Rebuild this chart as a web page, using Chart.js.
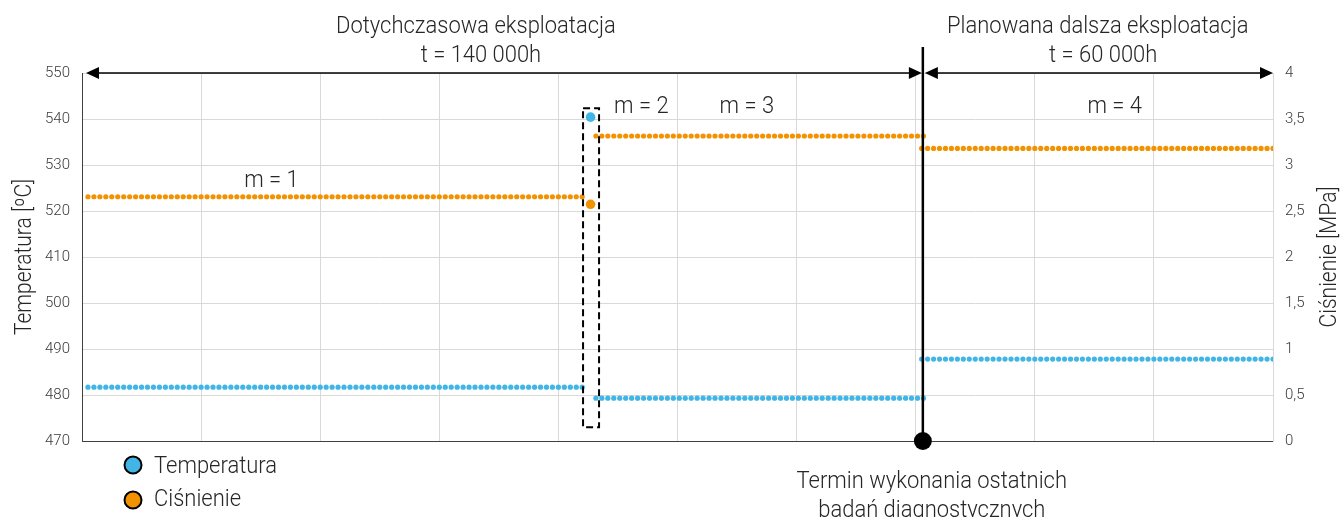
<!DOCTYPE html>
<html><head><meta charset="utf-8">
<script src="https://cdn.jsdelivr.net/npm/chart.js@4/dist/chart.umd.min.js"></script>
<style>html,body{margin:0;padding:0;background:#fff;overflow:hidden}#wrap{width:1342px;height:517px}</style>
</head><body><div id="wrap"><canvas id="c" width="1342" height="517"></canvas></div>
<script>
// ---- data ----
const phaseNames = ['m = 1', 'm = 2', 'm = 3', 'm = 4'];
const phaseStartH = [1000, 85400, 86300, 141000];
const phaseEndH = [84000, 85400, 141300, 200000];
const sampleStepH = 1000;
const temperatureC = [481.7, 540.4, 479.3, 487.8];
const pressureMPa = [2.655, 2.573, 3.315, 3.18];
const tempTickLabels = ['470', '480', '490', '500', '410', '520', '530', '540', '550'];
const pressureTicks = [0, 0.5, 1, 1.5, 2, 2.5, 3, 3.5, 4];
const diagnosticH = 141200;
const seriesNames = ['Temperatura', 'Ciśnienie'];
const periodTexts = [['Dotychczasowa eksploatacja', 't = 140 000h'], ['Planowana dalsza eksploatacja', 't = 60 000h']];
const diagnosticText = ['Termin wykonania ostatnich', 'badań diagnostycznych'];
const axisTitles = ['Temperatura [ºC]', 'Ciśnienie [MPa]'];

const BLUE = '#41b6e6', ORANGE = '#f39200';
const FONT = "Roboto, 'Noto Sans', sans-serif";
const TEXT = '#262626';
const SX = 0.915;

function buildSeries(levels) {
  const pts = [];
  for (let p = 0; p < levels.length; p++) {
    for (let h = phaseStartH[p]; h <= phaseEndH[p]; h += sampleStepH) {
      pts.push({ x: h, y: levels[p], m: p });
    }
  }
  return pts;
}

function txt(ctx, s, x, y, size, align, rot) {
  ctx.save();
  ctx.translate(x, y);
  if (rot) ctx.rotate(rot);
  ctx.scale(SX, 1);
  ctx.font = '300 ' + size + 'px ' + FONT;
  ctx.fillStyle = TEXT;
  ctx.textAlign = align || 'center';
  ctx.textBaseline = 'alphabetic';
  ctx.fillText(s, 0, 0);
  ctx.restore();
}

function arrow(ctx, x1, x2, y) {
  const L = 13, H = 6;
  ctx.save();
  ctx.strokeStyle = '#000'; ctx.fillStyle = '#000'; ctx.lineWidth = 1.5;
  ctx.beginPath(); ctx.moveTo(x1 + L - 1, y); ctx.lineTo(x2 - L + 1, y); ctx.stroke();
  ctx.beginPath(); ctx.moveTo(x1, y); ctx.lineTo(x1 + L, y - H); ctx.lineTo(x1 + L, y + H); ctx.closePath(); ctx.fill();
  ctx.beginPath(); ctx.moveTo(x2, y); ctx.lineTo(x2 - L, y - H); ctx.lineTo(x2 - L, y + H); ctx.closePath(); ctx.fill();
  ctx.restore();
}

const overlay = {
  id: 'overlay',
  afterDatasetsDraw(chart) {
    const ctx = chart.ctx, a = chart.chartArea;
    const x = chart.scales.x, y = chart.scales.y;
    const xd = x.getPixelForValue(diagnosticH);
    arrow(ctx, a.left + 4, xd - 1, a.top);
    arrow(ctx, xd + 2, a.right, a.top);
    txt(ctx, periodTexts[0][0], x.getPixelForValue(66150), 33, 24);
    txt(ctx, periodTexts[0][1], x.getPixelForValue(66990), 62, 24);
    txt(ctx, periodTexts[1][0], x.getPixelForValue(170570), 33, 24);
    txt(ctx, periodTexts[1][1], x.getPixelForValue(171490), 62, 24);
    txt(ctx, phaseNames[0], x.getPixelForValue(31810), 187, 24);
    txt(ctx, phaseNames[1], x.getPixelForValue(93930), 113, 24);
    txt(ctx, phaseNames[2], x.getPixelForValue(111640), 113, 24);
    txt(ctx, phaseNames[3], x.getPixelForValue(173420), 113, 24);
    const sx = x.getPixelForValue(phaseStartH[1]);
    const top = y.getPixelForValue(temperatureC[1]) - 9;
    const bot = y.getPixelForValue(473);
    ctx.save();
    ctx.strokeStyle = '#000'; ctx.lineWidth = 2; ctx.setLineDash([7, 4]);
    ctx.strokeRect(sx - 7.5, top, 16, bot - top);
    ctx.restore();
    ctx.save();
    ctx.strokeStyle = '#000'; ctx.lineWidth = 2.5;
    ctx.beginPath(); ctx.moveTo(xd, 47); ctx.lineTo(xd, a.bottom); ctx.stroke();
    ctx.fillStyle = '#000';
    ctx.beginPath(); ctx.arc(xd, a.bottom, 9, 0, Math.PI * 2); ctx.fill();
    ctx.restore();
    txt(ctx, diagnosticText[0], x.getPixelForValue(142700), 488, 24);
    txt(ctx, diagnosticText[1], x.getPixelForValue(142700), 517, 24);
    const lg = [[BLUE, 465, 473], [ORANGE, 500, 506]];
    lg.forEach((l, i) => {
      ctx.save();
      ctx.fillStyle = l[0]; ctx.strokeStyle = '#000'; ctx.lineWidth = 2;
      ctx.beginPath(); ctx.arc(133, l[1], 8.5, 0, Math.PI * 2); ctx.fill(); ctx.stroke();
      ctx.restore();
      txt(ctx, seriesNames[i], 154, l[2], 24, 'left');
    });
    txt(ctx, axisTitles[0], 31, (a.top + a.bottom) / 2, 23, 'center', -Math.PI / 2);
    txt(ctx, axisTitles[1], 1336, (a.top + a.bottom) / 2, 23, 'center', -Math.PI / 2);
  }
};

const radius = c => (c.raw && c.raw.m === 1 ? 4.8 : 2.6);

new Chart(document.getElementById('c'), {
  type: 'scatter',
  data: {
    datasets: [
      { label: seriesNames[0], data: buildSeries(temperatureC), yAxisID: 'y', backgroundColor: BLUE, borderWidth: 0, pointRadius: radius, showLine: false },
      { label: seriesNames[1], data: buildSeries(pressureMPa), yAxisID: 'y1', backgroundColor: ORANGE, borderWidth: 0, pointRadius: radius, showLine: false }
    ]
  },
  options: {
    responsive: false, animation: false, devicePixelRatio: 1,
    layout: { padding: { top: 73, left: 0, right: 0, bottom: 0 } },
    plugins: { legend: { display: false }, tooltip: { enabled: false } },
    scales: {
      x: {
        type: 'linear', min: 0, max: 200000,
        ticks: { display: false, stepSize: 20000 },
        grid: { color: '#d9d9d9', drawTicks: false },
        border: { color: '#404040', width: 1 },
        afterFit: s => { s.height = 76; }
      },
      y: {
        position: 'left', min: 470, max: 550,
        ticks: { stepSize: 10, padding: 12, color: '#3a3a3a', font: { family: FONT, size: 15, weight: '300' },
          callback: (v, i) => tempTickLabels[i] },
        grid: { color: '#d9d9d9', drawTicks: false },
        border: { color: '#404040', width: 1 },
        afterFit: s => { s.width = 82; }
      },
      y1: {
        position: 'right', min: 0, max: 4,
        afterBuildTicks: s => { s.ticks = pressureTicks.map(v => ({ value: v })); },
        ticks: { padding: 12, color: '#3a3a3a', font: { family: FONT, size: 15, weight: '300' },
          callback: v => String(v).replace('.', ',') },
        grid: { drawOnChartArea: false, drawTicks: false },
        border: { color: '#d9d9d9', width: 1 },
        afterFit: s => { s.width = 69; }
      }
    }
  },
  plugins: [overlay]
});
</script>
</body></html>
